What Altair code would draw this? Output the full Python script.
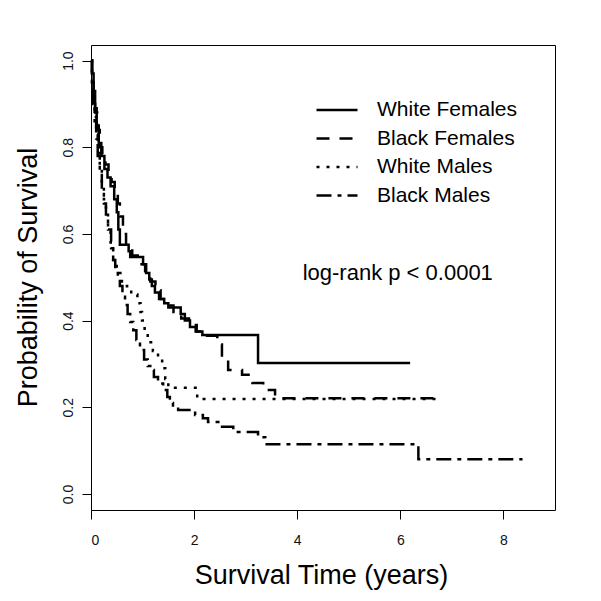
import altair as alt
import pandas as pd

FONT = "Liberation Sans"

groups = ["White Females", "Black Females", "White Males", "Black Males"]

wf_time = [0, 0.02, 0.05, 0.08, 0.11, 0.15, 0.20, 0.26, 0.32, 0.38, 0.45, 0.50, 0.53, 0.56,
           0.73, 0.76, 1.01, 1.07, 1.13, 1.18, 1.24, 1.32, 1.42, 1.50, 1.74, 1.82, 1.92,
           2.03, 2.16, 3.24, 6.19]
wf_surv = [1.0, 0.97, 0.93, 0.89, 0.85, 0.81, 0.78, 0.75, 0.73, 0.71, 0.68, 0.65, 0.61, 0.575,
           0.56, 0.547, 0.53, 0.51, 0.495, 0.48, 0.465, 0.45, 0.44, 0.43, 0.415, 0.40, 0.385,
           0.375, 0.367, 0.302, 0.302]

bf_time = [0, 0.02, 0.05, 0.08, 0.12, 0.17, 0.22, 0.28, 0.34, 0.40, 0.46, 0.52, 0.56, 0.62,
           0.68, 0.80, 0.95, 1.05, 1.15, 1.25, 1.35, 1.48, 1.60, 1.75, 1.90, 2.05, 2.25,
           2.45, 2.54, 2.66, 2.93, 3.13, 3.34, 3.57, 6.72]
bf_surv = [1.0, 0.96, 0.92, 0.88, 0.84, 0.80, 0.78, 0.76, 0.745, 0.72, 0.70, 0.67, 0.64, 0.60,
           0.575, 0.55, 0.53, 0.51, 0.49, 0.47, 0.45, 0.435, 0.42, 0.405, 0.39, 0.375, 0.365,
           0.345, 0.316, 0.286, 0.275, 0.256, 0.24, 0.221, 0.221]

wm_time = [0, 0.02, 0.04, 0.07, 0.10, 0.13, 0.17, 0.21, 0.25, 0.29, 0.33, 0.38, 0.43, 0.50,
           0.60, 0.70, 0.78, 0.90, 0.96, 0.99, 1.04, 1.10, 1.20, 1.30, 1.38, 1.44, 1.50,
           2.06, 6.72]
wm_surv = [1.0, 0.95, 0.91, 0.87, 0.83, 0.79, 0.75, 0.71, 0.68, 0.65, 0.61, 0.58, 0.54, 0.51,
           0.48, 0.475, 0.46, 0.44, 0.42, 0.40, 0.37, 0.35, 0.33, 0.315, 0.29, 0.265, 0.245,
           0.219, 0.219]

bm_time = [0, 0.02, 0.04, 0.07, 0.10, 0.13, 0.17, 0.21, 0.25, 0.29, 0.33, 0.39, 0.43, 0.47,
           0.52, 0.56, 0.61, 0.66, 0.71, 0.76, 0.82, 0.88, 0.95, 1.03, 1.10, 1.15, 1.22,
           1.30, 1.40, 1.48, 1.53, 1.59, 1.69, 2.02, 2.17, 2.27, 2.50, 2.76, 3.24, 3.38,
           6.35, 8.37]
bm_surv = [1.0, 0.95, 0.90, 0.86, 0.82, 0.78, 0.74, 0.70, 0.67, 0.64, 0.61, 0.567, 0.54, 0.52,
           0.50, 0.48, 0.455, 0.436, 0.415, 0.397, 0.378, 0.355, 0.332, 0.31, 0.295, 0.286,
           0.27, 0.255, 0.24, 0.224, 0.21, 0.20, 0.194, 0.182, 0.175, 0.166, 0.155, 0.143,
           0.131, 0.115, 0.08, 0.08]

annotation_x = [5.95]
annotation_y = [0.493]
annotation_text = ["log-rank p < 0.0001"]

x_ticks = [0, 2, 4, 6, 8]
y_ticks = [0.0, 0.2, 0.4, 0.6, 0.8, 1.0]

series = [(groups[0], wf_time, wf_surv), (groups[1], bf_time, bf_surv),
          (groups[2], wm_time, wm_surv), (groups[3], bm_time, bm_surv)]
rows = []
for g, ts, ss in series:
    for i, (t, s) in enumerate(zip(ts, ss)):
        rows.append({"group": g, "time": t, "surv": s, "order": i})
df = pd.DataFrame(rows)

dash_range = [[1, 0], [13, 10], [3, 7], [15, 6, 4, 6]]

x_enc = alt.X("time:Q",
              scale=alt.Scale(domain=[0, 9], nice=False, zero=False),
              axis=alt.Axis(values=x_ticks, format="d", title="Survival Time (years)",
                            titleX=230, titleY=73, titleBaseline="alphabetic",
                            labelPadding=14))
y_enc = alt.Y("surv:Q",
              scale=alt.Scale(domain=[-0.037, 1.036], nice=False, zero=False),
              axis=alt.Axis(values=y_ticks, format=".1f", title="Probability of Survival",
                            labelAngle=270, labelAlign="center", labelBaseline="bottom",
                            labelPadding=7, titleAngle=270, titleX=-63, titleY=232,
                            titleAlign="center", titleBaseline="middle"))

lines = alt.Chart(df).mark_line(interpolate="step-after", strokeWidth=2.5, color="black").encode(
    x=x_enc,
    y=y_enc,
    order="order:Q",
    strokeDash=alt.StrokeDash(
        "group:N",
        scale=alt.Scale(domain=groups, range=dash_range),
        sort=groups,
        legend=alt.Legend(
            title=None, orient="none", legendX=224, legendY=51, padding=0,
            symbolType="stroke", symbolSize=1681, symbolStrokeWidth=2.5,
            symbolStrokeColor="black", labelFontSize=21, labelFont=FONT,
            labelColor="black", labelOffset=18, rowPadding=0.5, clipHeight=28,
        ),
    ),
)

ann_df = pd.DataFrame({"x": annotation_x, "y": annotation_y, "label": annotation_text})
ann = alt.Chart(ann_df).mark_text(fontSize=22, font=FONT, align="center",
                                  baseline="alphabetic", color="black").encode(
    x="x:Q", y="y:Q", text="label:N")

chart = alt.layer(lines, ann).properties(
    width=464, height=465,
    padding={"left": 83, "top": 37, "right": 20, "bottom": 85},
    autosize=alt.AutoSizeParams(type="none"),
    background="white",
).configure_view(
    stroke="black", strokeWidth=1
).configure_axis(
    domain=False, grid=False, tickColor="black", tickSize=9, tickWidth=1,
    labelFont=FONT, labelFontSize=14, labelColor="#111111",
    titleFont=FONT, titleFontSize=27, titleFontWeight="normal", titleColor="black",
)

chart.save("out.html", embed_options={"renderer": "svg", "actions": False})
